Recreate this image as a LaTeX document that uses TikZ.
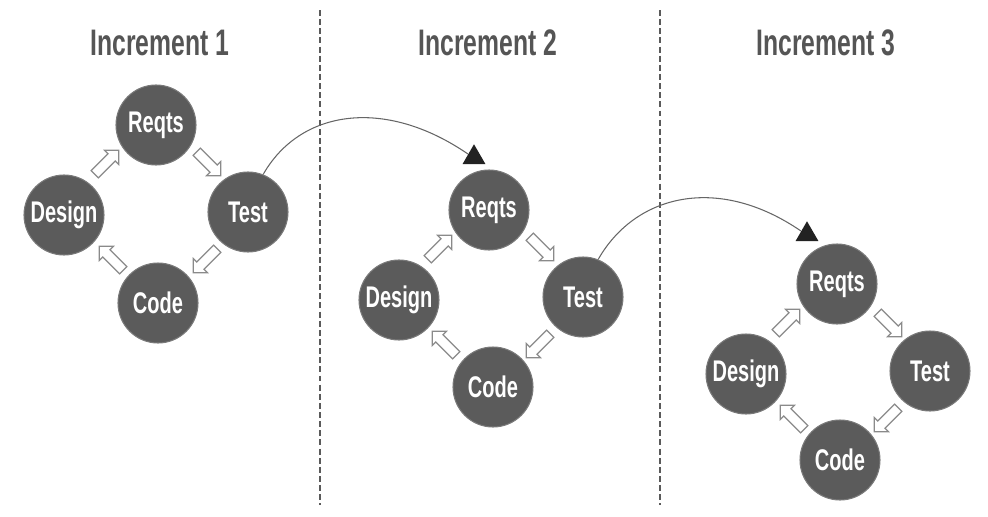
\documentclass[tikz,border=0pt]{standalone}
\usepackage{fontspec}
\setmainfont{Liberation Sans}[FakeStretch=0.67]
\usepackage{tikz}
\usetikzlibrary{shapes.arrows}
\usetikzlibrary{shapes.geometric}
\definecolor{discgray}{HTML}{5B5B5B}
\definecolor{discedge}{HTML}{7A7A7A}
\definecolor{titlegray}{HTML}{555555}
\definecolor{dividergray}{HTML}{5A5A5A}
\definecolor{arrowedge}{HTML}{8A8A8A}
\definecolor{linegray}{HTML}{666666}
\definecolor{tipblack}{HTML}{222222}
\tikzset{
    phase/.style={circle, fill=discgray, draw=discedge, line width=0.6pt,
        minimum size=1.6cm, inner sep=0pt, text=white,
        font=\fontsize{17}{17}\selectfont\bfseries},
    blockarrow/.style={single arrow, draw=arrowedge, fill=white, line width=0.7pt,
        minimum height=0.68cm, inner xsep=0pt, inner ysep=0.09cm,
        single arrow head extend=0.1cm},
    inctitle/.style={text=titlegray, font=\fontsize{21}{21}\selectfont\bfseries},
    divider/.style={draw=dividergray, line width=1.3pt, dash pattern=on 3.4pt off 1.8pt},
    handoff/.style={draw=linegray, line width=0.6pt},
    handofftip/.style={regular polygon, regular polygon sides=3, fill=tipblack,
        minimum size=0.53cm, inner sep=0pt},
}

\begin{document}
\begin{tikzpicture}
\useasboundingbox (0cm,0cm) rectangle (19.76cm,10.32cm);
% \draw[step=0.5cm, very thin, gray!30] (0cm,0cm) grid (19.76cm,10.32cm);
\draw[divider] (6.4cm,10.12cm) -- (6.4cm,0.22cm);
\draw[divider] (13.2cm,10.12cm) -- (13.2cm,0.22cm);

\node[inctitle] (title1) at (3.2cm,9.46cm) {Increment 1};
\node[inctitle] (title2) at (9.76cm,9.46cm) {Increment 2};
\node[inctitle] (title3) at (16.52cm,9.46cm) {Increment 3};

% increment 1
\node[phase] (reqts1) at (3.12cm,7.82cm) {Reqts};
\node[phase] (test1) at (4.96cm,6.08cm) {Test};
\node[phase] (code1) at (3.16cm,4.26cm) {Code};
\node[phase] (design1) at (1.28cm,6.02cm) {Design};
\node[blockarrow, rotate=-45] (rt1) at (4.14cm,7.08cm) {};
\node[blockarrow, rotate=-135] (tc1) at (4.14cm,5.14cm) {};
\node[blockarrow, rotate=135] (cd1) at (2.26cm,5.12cm) {};
\node[blockarrow, rotate=45] (dr1) at (2.10cm,7.04cm) {};

% increment 2
\node[phase] (reqts2) at (9.78cm,6.12cm) {Reqts};
\node[phase] (test2) at (11.66cm,4.38cm) {Test};
\node[phase] (code2) at (9.86cm,2.58cm) {Code};
\node[phase] (design2) at (7.98cm,4.32cm) {Design};
\node[blockarrow, rotate=-45] (rt2) at (10.80cm,5.38cm) {};
\node[blockarrow, rotate=-135] (tc2) at (10.80cm,3.44cm) {};
\node[blockarrow, rotate=135] (cd2) at (8.92cm,3.42cm) {};
\node[blockarrow, rotate=45] (dr2) at (8.76cm,5.34cm) {};

% increment 3
\node[phase] (reqts3) at (16.74cm,4.64cm) {Reqts};
\node[phase] (test3) at (18.6cm,2.9cm) {Test};
\node[phase] (code3) at (16.8cm,1.12cm) {Code};
\node[phase] (design3) at (14.92cm,2.84cm) {Design};
\node[blockarrow, rotate=-45] (rt3) at (17.76cm,3.86cm) {};
\node[blockarrow, rotate=-135] (tc3) at (17.76cm,1.96cm) {};
\node[blockarrow, rotate=135] (cd3) at (15.88cm,1.94cm) {};
\node[blockarrow, rotate=45] (dr3) at (15.72cm,3.86cm) {};

% hand-over between increments
\node[handofftip] (tip2) at (9.48cm,7.17cm) {};
\node[handofftip] (tip3) at (16.14cm,5.63cm) {};
\draw[handoff] (test1.68) .. controls +(0.74cm,1.3cm) and +(-1.66cm,1.14cm) .. (tip2.side 1);
\draw[handoff] (test2.68) .. controls +(0.74cm,1.3cm) and +(-1.66cm,1.14cm) .. (tip3.side 1);
\end{tikzpicture}
\end{document}
